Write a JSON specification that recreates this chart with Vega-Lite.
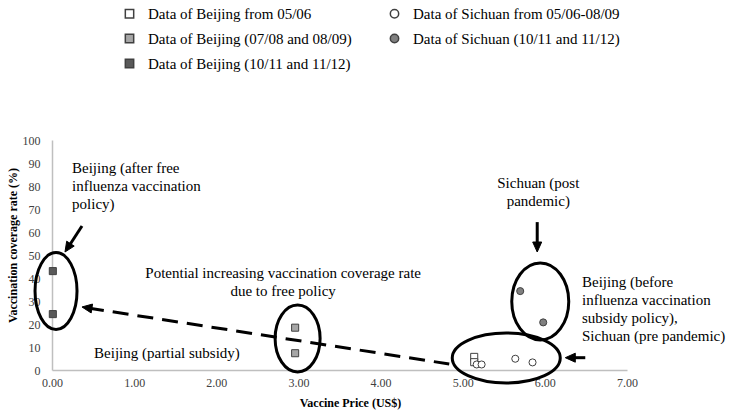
{
  "$schema": "https://vega.github.io/schema/vega-lite/v6.json",
  "width": 575,
  "height": 230,
  "autosize": "none",
  "padding": {"left": 52, "top": 140, "right": 102, "bottom": 49},
  "background": "white",
  "config": {"view": {"stroke": null}, "font": "Liberation Serif"},
  "datasets": {
    "points": [
      {"series": "Data of Beijing from 05/06", "x": 5.14, "y": 5.7},
      {"series": "Data of Beijing from 05/06", "x": 5.14, "y": 3.4},
      {"series": "Data of Beijing (07/08 and 08/09)", "x": 2.96, "y": 18.4},
      {"series": "Data of Beijing (07/08 and 08/09)", "x": 2.96, "y": 7.3},
      {"series": "Data of Beijing (10/11 and 11/12)", "x": 0.01, "y": 43},
      {"series": "Data of Beijing (10/11 and 11/12)", "x": 0.01, "y": 24.3},
      {"series": "Data of Sichuan from 05/06-08/09", "x": 5.17, "y": 2.4},
      {"series": "Data of Sichuan from 05/06-08/09", "x": 5.23, "y": 2.4},
      {"series": "Data of Sichuan from 05/06-08/09", "x": 5.64, "y": 4.9},
      {"series": "Data of Sichuan from 05/06-08/09", "x": 5.85, "y": 3.3},
      {"series": "Data of Sichuan (10/11 and 11/12)", "x": 5.7, "y": 34.3},
      {"series": "Data of Sichuan (10/11 and 11/12)", "x": 5.98, "y": 20.7}
    ],
    "ellipses": [
      {"id": "e1", "x": 0.049, "y": 34.3},
      {"id": "e2", "x": 2.99, "y": 13.7},
      {"id": "e3", "x": 5.944, "y": 29.8},
      {"id": "e4", "x": 5.53, "y": 5.2}
    ],
    "shafts": [
      {"x": 0.365, "y": 62.6, "x2": 0.199, "y2": 53.5},
      {"x": 5.907, "y": 64.3, "x2": 5.907, "y2": 53.9},
      {"x": 6.492, "y": 5.35, "x2": 6.32, "y2": 5.35}
    ],
    "dashed": [
      {"x": 0.438, "y": 26.96, "x2": 4.836, "y2": 2.6}
    ],
    "heads": [
      {"dir": "downleft", "x": 0.158, "y": 51.3},
      {"dir": "down", "x": 5.907, "y": 51.3},
      {"dir": "left", "x": 6.249, "y": 5.35},
      {"dir": "upleft", "x": 0.365, "y": 27.4}
    ],
    "textsLeft": [
      {"x": 0.244, "y": 90.9, "label": ["Beijing (after free", "influenza vaccination", "policy)"]},
      {"x": 0.512, "y": 10.4, "label": ["Beijing (partial  subsidy)"]},
      {"x": 6.452, "y": 41.3, "label": ["Beijing (before", "influenza vaccination", "subsidy policy),", "Sichuan (pre pandemic)"]}
    ],
    "textsCenter": [
      {"x": 2.814, "y": 45.2, "label": ["Potential increasing vaccination coverage rate", "due to  free policy"]},
      {"x": 5.92, "y": 84.3, "label": ["Sichuan (post", "pandemic)"]}
    ]
  },
  "encoding": {
    "x": {
      "field": "x",
      "type": "quantitative",
      "scale": {"domain": [0, 7], "nice": false, "zero": false},
      "axis": {
        "values": [0, 1, 2, 3, 4, 5, 6, 7],
        "format": ".2f",
        "title": "Vaccine Price (US$)",
        "grid": false,
        "ticks": false,
        "domainColor": "#bfbfbf",
        "domainWidth": 1.5,
        "labelFont": "Liberation Serif",
        "labelFontSize": 12,
        "labelColor": "#404040",
        "labelPadding": 7,
        "labelFlush": false,
        "labelOverlap": false,
        "titleFont": "Liberation Serif",
        "titleFontSize": 12,
        "titleFontWeight": "bold",
        "titleColor": "#000000",
        "titlePadding": 9,
        "titleX": 298
      }
    },
    "y": {
      "field": "y",
      "type": "quantitative",
      "scale": {"domain": [0, 100], "nice": false},
      "axis": {
        "values": [0, 10, 20, 30, 40, 50, 60, 70, 80, 90, 100],
        "title": "Vaccination coverage rate (%)",
        "grid": false,
        "ticks": false,
        "domainColor": "#bfbfbf",
        "domainWidth": 1.5,
        "labelFont": "Liberation Serif",
        "labelFontSize": 12,
        "labelColor": "#404040",
        "labelPadding": 12,
        "labelFlush": false,
        "labelOverlap": false,
        "titleFont": "Liberation Serif",
        "titleFontSize": 12,
        "titleFontWeight": "bold",
        "titleColor": "#000000",
        "titlePadding": 3,
        "titleY": 105
      }
    }
  },
  "layer": [
    {
      "data": {"name": "dashed"},
      "mark": {"type": "rule", "color": "#000000", "strokeWidth": 3, "strokeDash": [16, 9]},
      "encoding": {"x2": {"field": "x2"}, "y2": {"field": "y2"}}
    },
    {
      "data": {"name": "shafts"},
      "mark": {"type": "rule", "color": "#000000", "strokeWidth": 3},
      "encoding": {"x2": {"field": "x2"}, "y2": {"field": "y2"}}
    },
    {
      "data": {"name": "heads"},
      "transform": [{"filter": "datum.dir == 'down'"}],
      "mark": {"type": "point", "filled": true, "fill": "#000000", "stroke": "#000000", "strokeWidth": 1, "size": 4, "opacity": 1, "shape": "M0,0 L-4.5,-10 L4.5,-10 Z"}
    },
    {
      "data": {"name": "heads"},
      "transform": [{"filter": "datum.dir == 'left'"}],
      "mark": {"type": "point", "filled": true, "fill": "#000000", "stroke": "#000000", "strokeWidth": 1, "size": 4, "opacity": 1, "shape": "M0,0 L10,-4.5 L10,4.5 Z"}
    },
    {
      "data": {"name": "heads"},
      "transform": [{"filter": "datum.dir == 'downleft'"}],
      "mark": {"type": "point", "filled": true, "fill": "#000000", "stroke": "#000000", "strokeWidth": 1, "size": 4, "opacity": 1, "shape": "M0,0 L9.24,-5.91 L1.7,-10.83 Z"}
    },
    {
      "data": {"name": "heads"},
      "transform": [{"filter": "datum.dir == 'upleft'"}],
      "mark": {"type": "point", "filled": true, "fill": "#000000", "stroke": "#000000", "strokeWidth": 1, "size": 4, "opacity": 1, "shape": "M0,0 L10.57,-2.92 L9.19,5.98 Z"}
    },
    {
      "data": {"name": "ellipses"},
      "transform": [{"filter": "datum.id == 'e1'"}],
      "mark": {"type": "point", "filled": false, "stroke": "#000000", "strokeWidth": 3, "size": 4, "opacity": 1, "shape": "M0,-38.5 A21,38.5 0 1,1 0,38.5 A21,38.5 0 1,1 0,-38.5 Z"}
    },
    {
      "data": {"name": "ellipses"},
      "transform": [{"filter": "datum.id == 'e2'"}],
      "mark": {"type": "point", "filled": false, "stroke": "#000000", "strokeWidth": 3, "size": 4, "opacity": 1, "shape": "M0,-33.5 A22.5,33.5 0 1,1 0,33.5 A22.5,33.5 0 1,1 0,-33.5 Z"}
    },
    {
      "data": {"name": "ellipses"},
      "transform": [{"filter": "datum.id == 'e3'"}],
      "mark": {"type": "point", "filled": false, "stroke": "#000000", "strokeWidth": 3, "size": 4, "opacity": 1, "shape": "M0,-38.5 A28.5,38.5 0 1,1 0,38.5 A28.5,38.5 0 1,1 0,-38.5 Z"}
    },
    {
      "data": {"name": "ellipses"},
      "transform": [{"filter": "datum.id == 'e4'"}],
      "mark": {"type": "point", "filled": false, "stroke": "#000000", "strokeWidth": 3, "size": 4, "opacity": 1, "shape": "M-54,0 A54,25 0 1,1 54,0 A54,25 0 1,1 -54,0 Z"}
    },
    {
      "data": {"name": "points"},
      "mark": {"type": "point", "filled": true, "stroke": "#404040", "strokeWidth": 1, "size": 50, "opacity": 1},
      "encoding": {
        "fill": {
          "field": "series",
          "type": "nominal",
          "scale": {
            "domain": ["Data of Beijing from 05/06", "Data of Beijing (07/08 and 08/09)", "Data of Beijing (10/11 and 11/12)", "Data of Sichuan from 05/06-08/09", "Data of Sichuan (10/11 and 11/12)"],
            "range": ["#ffffff", "#a6a6a6", "#595959", "#ffffff", "#808080"]
          },
          "legend": {
            "title": null,
            "orient": "none",
            "legendX": 70,
            "legendY": -134,
            "columns": 2,
            "columnPadding": 35,
            "rowPadding": 9,
            "labelFont": "Liberation Serif",
            "labelFontSize": 15,
            "labelColor": "#000000",
            "labelLimit": 400,
            "labelOffset": 11,
            "symbolSize": 70,
            "encode": {"symbols": {"update": {"stroke": {"value": "#404040"}, "strokeWidth": {"value": 1}}}}
          }
        },
        "shape": {
          "field": "series",
          "type": "nominal",
          "scale": {
            "domain": ["Data of Beijing from 05/06", "Data of Beijing (07/08 and 08/09)", "Data of Beijing (10/11 and 11/12)", "Data of Sichuan from 05/06-08/09", "Data of Sichuan (10/11 and 11/12)"],
            "range": ["square", "square", "square", "circle", "circle"]
          },
          "legend": {
            "title": null,
            "orient": "none",
            "legendX": 70,
            "legendY": -134,
            "columns": 2,
            "columnPadding": 35,
            "rowPadding": 9,
            "labelFont": "Liberation Serif",
            "labelFontSize": 15,
            "labelColor": "#000000",
            "labelLimit": 400,
            "labelOffset": 11,
            "symbolSize": 70,
            "encode": {"symbols": {"update": {"stroke": {"value": "#404040"}, "strokeWidth": {"value": 1}}}}
          }
        }
      }
    },
    {
      "data": {"name": "textsLeft"},
      "mark": {"type": "text", "align": "left", "baseline": "top", "font": "Liberation Serif", "fontSize": 15, "lineHeight": 18, "color": "#000000"},
      "encoding": {"text": {"field": "label"}}
    },
    {
      "data": {"name": "textsCenter"},
      "mark": {"type": "text", "align": "center", "baseline": "top", "font": "Liberation Serif", "fontSize": 15, "lineHeight": 18, "color": "#000000"},
      "encoding": {"text": {"field": "label"}}
    }
  ]
}
